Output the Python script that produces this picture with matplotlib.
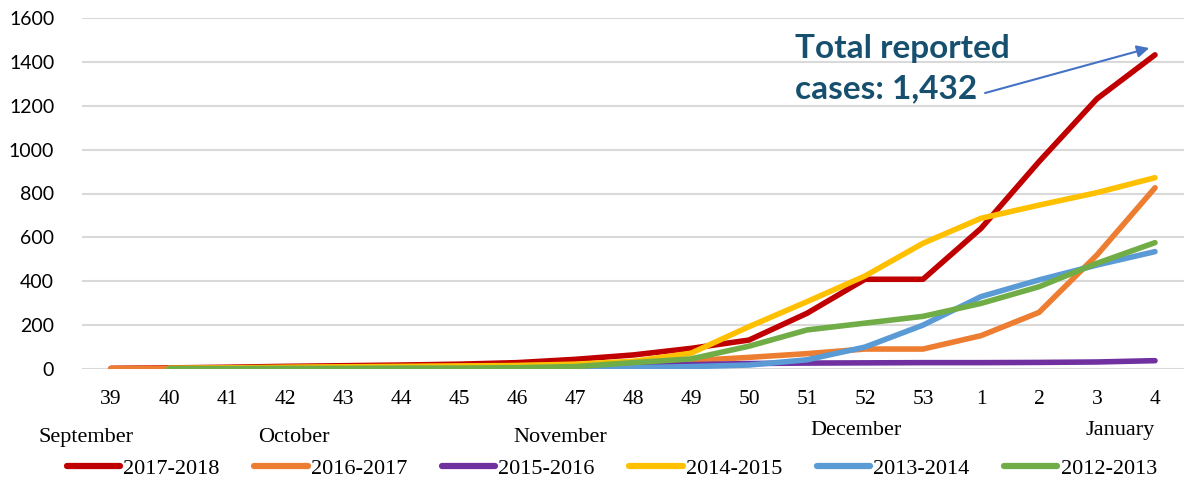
import matplotlib
matplotlib.use("Agg")
import matplotlib.pyplot as plt

weeks = ["39", "40", "41", "42", "43", "44", "45", "46", "47", "48", "49",
         "50", "51", "52", "53", "1", "2", "3", "4"]

s2017_2018 = [3, 5, 8, 12, 15, 18, 22, 29, 44, 64, 94, 132, 254, 409, 409, 641, 945, 1232, 1432]
s2016_2017 = [2, 3, 4, 6, 8, 10, 12, 15, 20, 27, 38, 53, 70, 91, 91, 152, 258, 520, 826]
s2015_2016 = [None, 0, 1, 2, 3, 4, 5, 7, 10, 15, 20, 25, 27, 28, 29, 29, 30, 32, 38]
s2014_2015 = [None, 3, 5, 8, 10, 12, 14, 16, 22, 35, 72, 193, 307, 424, 573, 687, 747, 804, 872]
s2013_2014 = [None, 0, 0, 0, 0, 0, 0, 0, 2, 6, 11, 18, 42, 100, 200, 330, 406, 474, 535]
s2012_2013 = [None, 2, 2, 3, 3, 4, 4, 6, 11, 29, 46, 104, 178, 209, 240, 299, 375, 482, 576]

series_names = ["2017-2018", "2016-2017", "2015-2016", "2014-2015", "2013-2014", "2012-2013"]
series_values = [s2017_2018, s2016_2017, s2015_2016, s2014_2015, s2013_2014, s2012_2013]
series_colors = ["#C00000", "#ED7D31", "#7030A0", "#FFC000", "#5B9BD5", "#70AD47"]

months = ["September", "October", "November", "December", "January"]
month_x = [-0.43, 3.16, 7.74, 12.84, 17.4]
month_y = [-0.195, -0.195, -0.195, -0.175, -0.175]

annotation_text = "Total reported\ncases: 1,432"

fig = plt.figure(figsize=(11.88, 4.84), dpi=100)
ax = fig.add_axes([82/1188, (484-369)/484, (1184-82)/1188, (369-18)/484])

x = list(range(len(weeks)))
for name, vals, col in zip(series_names, series_values, series_colors):
    xs = [xi for xi, v in zip(x, vals) if v is not None]
    ys = [v for v in vals if v is not None]
    ax.plot(xs, ys, color=col, lw=4.0, label=name, solid_capstyle="round",
            solid_joinstyle="round")

ax.set_xlim(-0.5, len(weeks) - 0.5)
ax.set_ylim(0, 1600)
ax.set_yticks(range(0, 1601, 200))
ax.set_xticks(x)
ax.set_xticklabels(weeks, family="Liberation Serif", fontsize=15.5)
for lbl in ax.get_yticklabels():
    lbl.set_family("Lato")
    lbl.set_fontsize(14)
ax.tick_params(axis="x", length=0, pad=15)
ax.tick_params(axis="y", length=0, pad=20)
ax.grid(axis="y", color="#D9D9D9", lw=1.5)
ax.set_axisbelow(True)
for sp in ax.spines.values():
    sp.set_visible(False)

for m, mx, my in zip(months, month_x, month_y):
    ax.text(mx, my, m, transform=ax.get_xaxis_transform(), ha="center", va="center",
            family="Liberation Serif", fontsize=16, color="black")

ax.text(11.8, 1525, annotation_text, ha="left", va="top", fontsize=24,
        fontweight="bold", family="Lato", color="#17506E", linespacing=1.45)
ax.annotate("", xy=(17.9, 1463), xytext=(15.07, 1258),
            arrowprops=dict(arrowstyle="-|>", color="#4472C4", lw=1.5,
                            mutation_scale=18, shrinkA=0, shrinkB=0))

leg = ax.legend(loc="center", bbox_to_anchor=(0.515, 0.031), bbox_transform=fig.transFigure,
                ncol=6, frameon=False, handlelength=2.4, handletextpad=0.15,
                columnspacing=1.55, prop={"family": "Liberation Serif", "size": 16})
for h in leg.get_lines():
    h.set_linewidth(4.5)

fig.savefig("out.png", dpi=100)
